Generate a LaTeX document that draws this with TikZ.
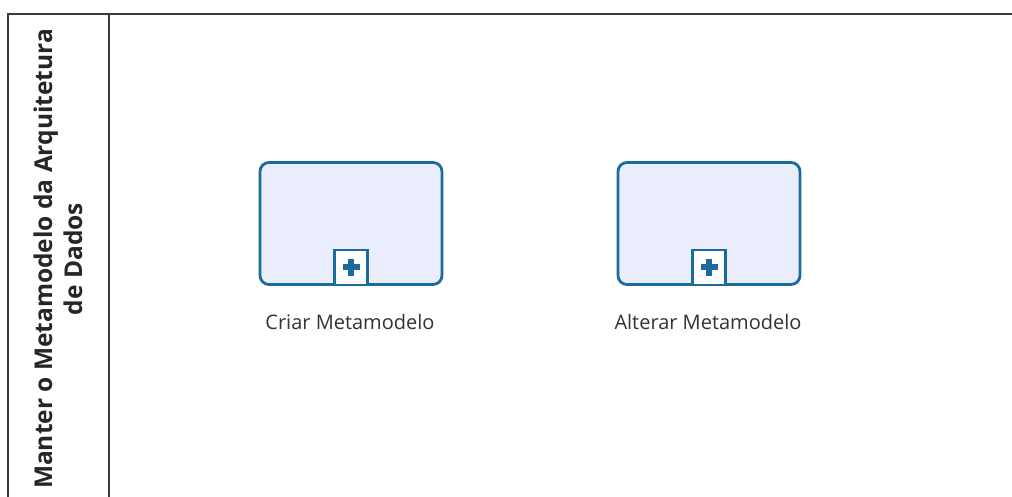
\documentclass[tikz,border=0pt]{standalone}
\usepackage{fontspec}
\setmainfont{Open Sans}
\definecolor{taskblue}{HTML}{1D6B9C}
\definecolor{taskfill}{HTML}{EAEEFC}
\definecolor{poolline}{HTML}{3A3A3A}
\tikzset{
  task/.style={draw=taskblue, fill=taskfill, line width=2.8pt, rounded corners=9pt, minimum width=182pt, minimum height=122pt, inner sep=0pt},
  marker/.style={draw=taskblue, fill=white, line width=2.4pt, minimum width=33pt, minimum height=35pt, inner sep=0pt},
  tasklabel/.style={font=\fontsize{20}{24}\selectfont, text=black!80},
  lanetitle/.style={font=\bfseries\fontsize{24.5}{30}\selectfont, align=center, rotate=90, text=black!85},
}
\begin{document}
\begin{tikzpicture}[x=1pt,y=-1pt]
\useasboundingbox (0,0) rectangle (1012,496);
\fill[white] (0,0) rectangle (1012,496);
% pool
\draw[poolline, line width=2pt] (8,497) -- (8,14) -- (1013,14);
\draw[poolline, line width=2pt] (108.5,14) -- (108.5,497);
\node[lanetitle] (lane) at (58,259) {Manter o Metamodelo da Arquitetura\\de Dados};
% tasks
\node[task] (t1) at (351,223.5) {};
\node[marker, anchor=south] (m1) at (t1.south) {};
\fill[taskblue] ([xshift=-8.5pt,yshift=-2.8pt]m1.center) rectangle ([xshift=8.5pt,yshift=2.8pt]m1.center);
\fill[taskblue] ([xshift=-2.8pt,yshift=-8.5pt]m1.center) rectangle ([xshift=2.8pt,yshift=8.5pt]m1.center);
\node[tasklabel] (l1) at (350,322) {Criar Metamodelo};
\node[task] (t2) at (709,223.5) {};
\node[marker, anchor=south] (m2) at (t2.south) {};
\fill[taskblue] ([xshift=-8.5pt,yshift=-2.8pt]m2.center) rectangle ([xshift=8.5pt,yshift=2.8pt]m2.center);
\fill[taskblue] ([xshift=-2.8pt,yshift=-8.5pt]m2.center) rectangle ([xshift=2.8pt,yshift=8.5pt]m2.center);
\node[tasklabel] (l2) at (708,322) {Alterar Metamodelo};
\end{tikzpicture}
\end{document}
